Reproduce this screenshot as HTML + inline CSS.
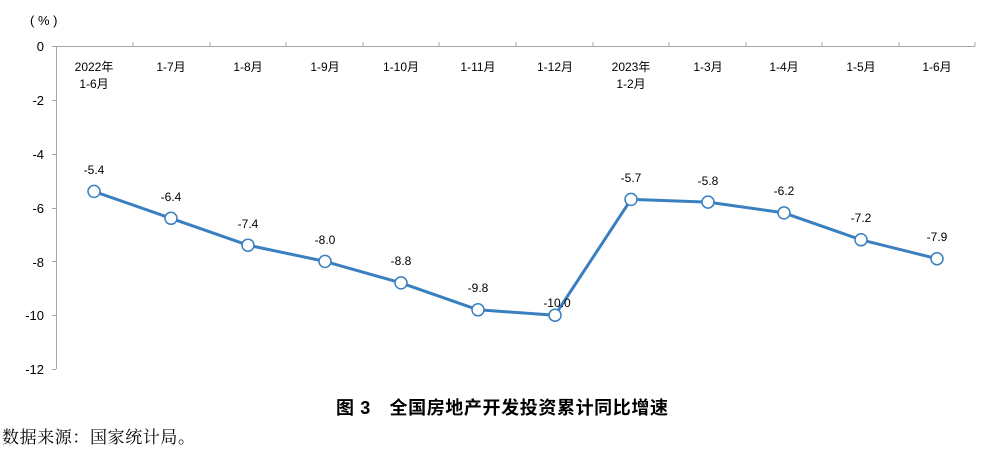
<!DOCTYPE html><html><head><meta charset="utf-8"><style>body{margin:0;background:#fff}svg{display:block}text{font-family:"Liberation Sans","Noto Sans CJK SC",sans-serif}</style></head><body>
<svg width="983" height="454" viewBox="0 0 983 454" xmlns="http://www.w3.org/2000/svg">
<g font-size="13" fill="#000">
<text x="30" y="25">( % )</text>
<g text-anchor="end">
<text x="44" y="51">0</text><text x="44" y="105">-2</text><text x="44" y="159">-4</text><text x="44" y="213">-6</text><text x="44" y="267">-8</text><text x="44" y="320">-10</text><text x="44" y="374">-12</text>
</g></g>
<g stroke="#a6a6a6" stroke-width="1" fill="none">
<line x1="56.5" y1="46" x2="56.5" y2="369"/>
<line x1="56" y1="46.5" x2="975" y2="46.5"/>
<path d="M52 46.5H56M52 100.5H56M52 154.5H56M52 208.5H56M52 261.5H56M52 315.5H56M52 369.5H56"/>
<path d="M133 46V42M210 46V42M286 46V42M363 46V42M439 46V42M516 46V42M593 46V42M669 46V42M746 46V42M822 46V42M899 46V42M975 46V42"/>
</g>
<g font-size="12" text-anchor="middle" fill="#000">
<text x="94" y="71">2022年</text><text x="94" y="88">1-6月</text>
<text x="171" y="71">1-7月</text><text x="248" y="71">1-8月</text><text x="325" y="71">1-9月</text><text x="401" y="71">1-10月</text><text x="478" y="71">1-11月</text><text x="555" y="71">1-12月</text>
<text x="631" y="71">2023年</text><text x="631" y="88">1-2月</text>
<text x="708" y="71">1-3月</text><text x="784" y="71">1-4月</text><text x="861" y="71">1-5月</text><text x="937" y="71">1-6月</text>
</g>
<polyline fill="none" stroke="#3a7fc0" stroke-width="3" stroke-linejoin="round" points="94,191.4 171,218.3 248,245.2 325,261.4 401,282.9 478,309.8 555,315.2 631,199.4 708,202.1 784,212.9 861,239.8 937,258.7"/>
<g fill="#fff" stroke="#3a7fc0" stroke-width="1.5">
<circle cx="94" cy="191.4" r="6"/><circle cx="171" cy="218.3" r="6"/><circle cx="248" cy="245.2" r="6"/><circle cx="325" cy="261.4" r="6"/><circle cx="401" cy="282.9" r="6"/><circle cx="478" cy="309.8" r="6"/><circle cx="555" cy="315.2" r="6"/><circle cx="631" cy="199.4" r="6"/><circle cx="708" cy="202.1" r="6"/><circle cx="784" cy="212.9" r="6"/><circle cx="861" cy="239.8" r="6"/><circle cx="937" cy="258.7" r="6"/>
</g>
<g font-size="12" text-anchor="middle" fill="#000">
<text x="94" y="174">-5.4</text><text x="171" y="201">-6.4</text><text x="248" y="228">-7.4</text><text x="325" y="244">-8.0</text><text x="401" y="265">-8.8</text><text x="478" y="292">-9.8</text><text x="557" y="307">-10.0</text><text x="631" y="182">-5.7</text><text x="708" y="185">-5.8</text><text x="784" y="195">-6.2</text><text x="861" y="222">-7.2</text><text x="937" y="241">-7.9</text>
</g>
<text x="336" y="414" font-size="18" font-weight="bold" fill="#000" textLength="332">图 3　全国房地产开发投资累计同比增速</text>
<text x="2" y="443" font-size="17" fill="#000" textLength="193" style="font-family:'Liberation Serif','Noto Serif CJK SC',serif">数据来源：国家统计局。</text>
</svg></body></html>
